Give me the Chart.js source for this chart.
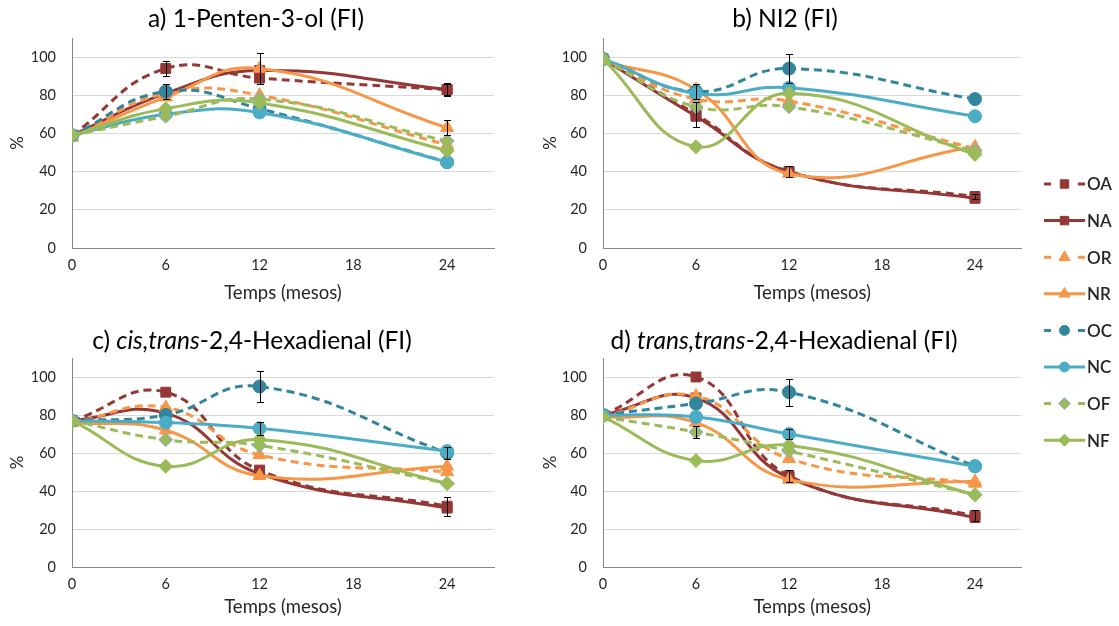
<!DOCTYPE html>
<html>
<head>
<meta charset="utf-8">
<script src="https://cdn.jsdelivr.net/npm/chart.js@4/dist/chart.umd.min.js"></script>
<style>
  html, body { margin: 0; padding: 0; background: #fff; }
  #wrap { position: relative; width: 1119px; height: 626px; overflow: hidden; background: #fff; }
  #wrap canvas { position: absolute; }
</style>
</head>
<body>
<div id="wrap">
  <canvas id="chartA" width="540" height="310" style="left:0;top:0"></canvas>
  <canvas id="chartB" width="490" height="310" style="left:540px;top:0"></canvas>
  <canvas id="chartC" width="540" height="307" style="left:0;top:319px"></canvas>
  <canvas id="chartD" width="490" height="307" style="left:540px;top:319px"></canvas>
  <canvas id="legend" width="89" height="320" style="left:1030px;top:150px"></canvas>
</div>
<script>
// Sampling times (months) and axis ticks
const months = [0, 6, 12, 24];
const xTicks = [0, 6, 12, 18, 24];
const seriesNames = ['OA', 'NA', 'OR', 'NR', 'OC', 'NC', 'OF', 'NF'];

// a) 1-Penten-3-ol (FI), % remaining
const pentenOA = [59, 94, 89, 83];
const pentenNA = [59, 81, 93, 83];
const pentenOR = [58, 81, 80, 54];
const pentenNR = [58, 79, 94, 63];
const pentenOC = [59, 82, 73, 45];
const pentenNC = [59, 70, 71, 45];
const pentenOF = [59, 69, 78, 56];
const pentenNF = [59, 73, 76, 51];
const pentenErr = [[0, 4, 0, 3.5], [0, 0, 0, 3], [0, 0, 0, 0], [0, 0, 8, 4],
                   [0, 4, 0, 0], [0, 0, 0, 0], [0, 0, 0, 0], [0, 0, 0, 0]];

// b) NI2 (FI)
const ni2OA = [99, 70, 40, 27];
const ni2NA = [99, 69, 40, 26];
const ni2OR = [98, 78, 77, 52];
const ni2NR = [98, 83, 39, 53];
const ni2OC = [99, 82, 94, 78];
const ni2NC = [99, 81, 84, 69];
const ni2OF = [99, 74, 74, 51];
const ni2NF = [99, 53, 81, 49];
const ni2Err = [[0, 6.5, 3, 1.5], [0, 0, 0, 0], [0, 0, 0, 0], [0, 0, 0, 0],
                [0, 4, 7.5, 0], [0, 0, 0, 0], [0, 0, 0, 0], [0, 0, 0, 0]];

// c) cis,trans-2,4-Hexadienal (FI)
const ctOA = [77, 92, 51, 32];
const ctNA = [77, 81, 49, 31];
const ctOR = [76, 84, 59, 50];
const ctNR = [76, 72, 48, 53];
const ctOC = [77, 80, 95, 60];
const ctNC = [77, 76, 73, 61];
const ctOF = [77, 67, 64, 44];
const ctNF = [77, 53, 67, 44];
const ctErr = [[0, 0, 0, 5], [0, 0, 0, 0], [0, 0, 0, 0], [0, 0, 0, 0],
               [0, 0, 8, 3], [0, 0, 3.5, 0], [0, 0, 0, 0], [0, 0, 0, 0]];

// d) trans,trans-2,4-Hexadienal (FI)
const ttOA = [80, 100, 48, 27];
const ttNA = [80, 89, 47, 26];
const ttOR = [79, 90, 57, 44];
const ttNR = [79, 76, 46, 45];
const ttOC = [80, 86, 92, 53];
const ttNC = [80, 79, 70, 53];
const ttOF = [79, 71, 61, 38];
const ttNF = [79, 56, 64, 38];
const ttErr = [[0, 0, 3, 3], [0, 0, 0, 0], [0, 0, 0, 0], [0, 0, 0, 0],
               [0, 0, 7, 0], [0, 0, 2.5, 0], [0, 3, 0, 0], [0, 0, 0, 0]];

// Series appearance
const RED = '#953735', ORANGE = '#F79646', TEAL_D = '#31859C', TEAL = '#4BACC6', GREEN = '#9BBB59';
const DASH = [8, 5];
const styles = {
  OA: { color: RED,    dash: DASH, shape: 'rect',     r: 7,   fill: RED,    edge: RED },
  NA: { color: RED,    dash: [],   shape: 'rect',     r: 7,   fill: RED,    edge: RED },
  OR: { color: ORANGE, dash: DASH, shape: 'triangle', r: 7.5, fill: ORANGE, edge: ORANGE },
  NR: { color: ORANGE, dash: [],   shape: 'triangle', r: 7.5, fill: ORANGE, edge: ORANGE },
  OC: { color: TEAL_D, dash: DASH, shape: 'circle',   r: 6.5, fill: TEAL_D, edge: TEAL_D },
  NC: { color: TEAL,   dash: [],   shape: 'circle',   r: 6.5, fill: TEAL,   edge: TEAL },
  OF: { color: GREEN,  dash: DASH, shape: 'rectRot',  r: 7,   fill: GREEN,  edge: '#8EA9DB' },
  NF: { color: GREEN,  dash: [],   shape: 'rectRot',  r: 7,   fill: GREEN,  edge: GREEN }
};

const FONT = 'Lato, "Open Sans", sans-serif';
const TEXT = '#262626';

function buildDatasets(valueRows, errRows) {
  return seriesNames.map((name, i) => {
    const s = styles[name];
    return {
      label: name,
      data: months.map((m, j) => ({ x: m, y: valueRows[i][j] })),
      errors: errRows[i],
      borderColor: s.color,
      borderWidth: 3,
      borderDash: s.dash,
      backgroundColor: s.fill,
      pointStyle: s.shape,
      pointRadius: s.r,
      pointBackgroundColor: s.fill,
      pointBorderColor: s.edge,
      pointBorderWidth: 1,
      tension: 0.45,
      fill: false,
      order: seriesNames.length - i
    };
  });
}

// Panel heading, drawn with mixed roman / italic runs
const panelTitle = {
  id: 'panelTitle',
  afterDraw(chart, args, opts) {
    const ctx = chart.ctx;
    ctx.save();
    ctx.fillStyle = '#000';
    ctx.textBaseline = 'middle';
    const fontOf = seg => (seg.italic ? 'italic ' : '') + opts.size + 'px ' + FONT;
    let total = 0;
    opts.parts.forEach(seg => { ctx.font = fontOf(seg); total += ctx.measureText(seg.text).width; });
    let x = opts.cx - total / 2;
    opts.parts.forEach(seg => {
      ctx.font = fontOf(seg);
      ctx.textAlign = 'left';
      ctx.fillText(seg.text, x, opts.cy);
      x += ctx.measureText(seg.text).width;
    });
    ctx.restore();
  }
};

// Vertical error bars with caps, positioned through the chart scales
const errorBars = {
  id: 'errorBars',
  afterDatasetsDraw(chart) {
    const ctx = chart.ctx, xs = chart.scales.x, ys = chart.scales.y;
    ctx.save();
    ctx.strokeStyle = '#000';
    ctx.lineWidth = 1;
    chart.data.datasets.forEach(ds => {
      (ds.errors || []).forEach((e, j) => {
        if (!e) return;
        const p = ds.data[j];
        const x = Math.round(xs.getPixelForValue(p.x)) + 0.5;
        const yt = Math.round(ys.getPixelForValue(p.y + e)) + 0.5;
        const yb = Math.round(ys.getPixelForValue(p.y - e)) + 0.5;
        ctx.beginPath();
        ctx.moveTo(x, yt); ctx.lineTo(x, yb);
        ctx.moveTo(x - 3.5, yt); ctx.lineTo(x + 3.5, yt);
        ctx.moveTo(x - 3.5, yb); ctx.lineTo(x + 3.5, yb);
        ctx.stroke();
      });
    });
    ctx.restore();
  }
};

function makeChart(id, valueRows, errRows, geo, titleParts) {
  return new Chart(document.getElementById(id), {
    type: 'line',
    data: { datasets: buildDatasets(valueRows, errRows) },
    plugins: [panelTitle, errorBars],
    options: {
      responsive: false,
      animation: false,
      devicePixelRatio: 1,
      layout: { padding: { top: geo.top, right: geo.right, left: 0, bottom: 0 } },
      plugins: {
        legend: { display: false },
        tooltip: { enabled: false },
        panelTitle: { parts: titleParts, cx: geo.tx, cy: geo.ty, size: 24.5 }
      },
      scales: {
        x: {
          type: 'linear', min: 0, max: 27,
          afterBuildTicks: s => { s.ticks = xTicks.map(v => ({ value: v })); },
          afterFit: s => { s.height = geo.xh; },
          grid: { display: false, drawTicks: false },
          border: { display: true, color: '#868686', width: 1 },
          ticks: { padding: 9, color: TEXT, font: { family: FONT, size: 14.5 }, maxRotation: 0 },
          title: { display: true, text: 'Temps (mesos)', color: TEXT,
                   font: { family: FONT, size: 18.5 }, padding: { top: 0, bottom: geo.xtp } }
        },
        y: {
          min: 0, max: 110,
          afterFit: s => { s.width = geo.yw; },
          grid: { drawTicks: false, lineWidth: 1,
                  color: c => (c.tick && c.tick.value === 0 ? 'rgba(0,0,0,0)' : '#D9D9D9') },
          border: { display: true, color: '#868686', width: 1 },
          ticks: { stepSize: 20, includeBounds: false, padding: 16, color: TEXT,
                   font: { family: FONT, size: 14.5 } },
          title: { display: true, text: '%', color: TEXT, font: { family: FONT, size: 17 },
                   padding: { top: geo.ytp, bottom: 0 } }
        }
      }
    }
  });
}

const rowsA = [pentenOA, pentenNA, pentenOR, pentenNR, pentenOC, pentenNC, pentenOF, pentenNF];
const rowsB = [ni2OA, ni2NA, ni2OR, ni2NR, ni2OC, ni2NC, ni2OF, ni2NF];
const rowsC = [ctOA, ctNA, ctOR, ctNR, ctOC, ctNC, ctOF, ctNF];
const rowsD = [ttOA, ttNA, ttOR, ttNR, ttOC, ttNC, ttOF, ttNF];

makeChart('chartA', rowsA, pentenErr,
  { top: 38, right: 46, yw: 72, xh: 62, xtp: 6, ytp: 7, tx: 256, ty: 19 },
  [{ text: 'a) 1-Penten-3-ol (FI)' }]);
makeChart('chartB', rowsB, ni2Err,
  { top: 38, right: 4, yw: 63, xh: 62, xtp: 6, ytp: 0, tx: 245, ty: 19 },
  [{ text: 'b) NI2 (FI)' }]);
makeChart('chartC', rowsC, ctErr,
  { top: 39, right: 46, yw: 72, xh: 59, xtp: 8, ytp: 7, tx: 252, ty: 22 },
  [{ text: 'c) ' }, { text: 'cis,trans', italic: true }, { text: '-2,4-Hexadienal (FI)' }]);
makeChart('chartD', rowsD, ttErr,
  { top: 39, right: 4, yw: 63, xh: 59, xtp: 8, ytp: 0, tx: 244, ty: 22 },
  [{ text: 'd) ' }, { text: 'trans,trans', italic: true }, { text: '-2,4-Hexadienal (FI)' }]);

// Shared legend: line sample with marker, then the series name
(function drawLegend() {
  const cv = document.getElementById('legend');
  const ctx = cv.getContext('2d');
  function marker(s, x, y) {
    const r = s.r * 0.85;
    ctx.beginPath();
    if (s.shape === 'rect') {
      const h = r * Math.SQRT1_2;
      ctx.rect(x - h, y - h, 2 * h, 2 * h);
    } else if (s.shape === 'triangle') {
      ctx.moveTo(x, y - r);
      ctx.lineTo(x + r * 0.866, y + r * 0.5);
      ctx.lineTo(x - r * 0.866, y + r * 0.5);
      ctx.closePath();
    } else if (s.shape === 'circle') {
      ctx.arc(x, y, r * 0.9, 0, Math.PI * 2);
    } else {
      ctx.moveTo(x, y - r); ctx.lineTo(x + r, y); ctx.lineTo(x, y + r); ctx.lineTo(x - r, y);
      ctx.closePath();
    }
    ctx.fillStyle = s.fill;
    ctx.fill();
    ctx.lineWidth = 1;
    ctx.strokeStyle = s.edge;
    ctx.stroke();
  }
  seriesNames.forEach((name, i) => {
    const s = styles[name];
    const y = 34 + i * 36.6;
    ctx.strokeStyle = s.color;
    ctx.lineWidth = 3;
    ctx.beginPath();
    if (s.dash.length) {
      ctx.moveTo(14, y); ctx.lineTo(21, y);
      ctx.moveTo(48, y); ctx.lineTo(55, y);
    } else {
      ctx.moveTo(14, y); ctx.lineTo(55, y);
    }
    ctx.stroke();
    marker(s, 34.5, y);
    ctx.fillStyle = TEXT;
    ctx.font = '600 17px ' + FONT;
    ctx.textAlign = 'left';
    ctx.textBaseline = 'middle';
    ctx.fillText(name, 57, y + 1);
  });
})();
</script>
</body>
</html>
